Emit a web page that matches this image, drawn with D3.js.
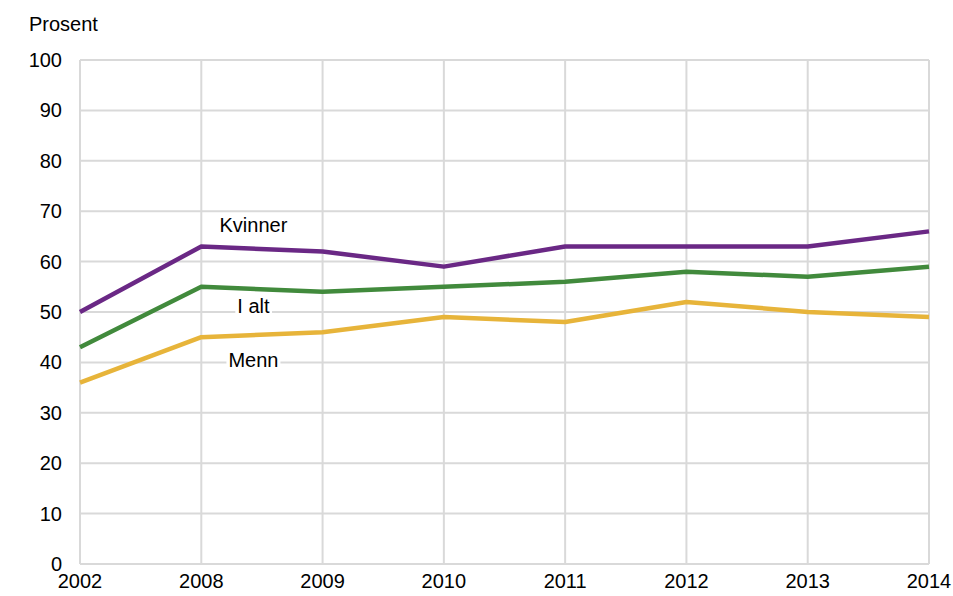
<!DOCTYPE html>
<html>
<head>
<meta charset="utf-8">
<script src="https://cdn.jsdelivr.net/npm/d3@7"></script>
<style>
body{margin:0;background:#fff;}
text{font-family:"Liberation Sans",Arial,sans-serif;fill:#000;}
</style>
</head>
<body>
<div id="chart"></div>
<script>
var years = ["2002","2008","2009","2010","2011","2012","2013","2014"];
var kvinner = [50,63,62,59,63,63,63,66];
var ialt = [43,55,54,55,56,58,57,59];
var menn = [36,45,46,49,48,52,50,49];
var yTicks = [0,10,20,30,40,50,60,70,80,90,100];

var series = [
  {name:"Kvinner", values:kvinner, color:"#6a2885", label:[1.43,67.3]},
  {name:"I alt", values:ialt, color:"#418a3c", label:[1.43,51.2]},
  {name:"Menn", values:menn, color:"#e7b43a", label:[1.43,40.5]}
];

var width = 953, height = 596;
var mLeft = 80, mRight = 929, mTop = 60, mBottom = 564;
var fs = "20px";

var svg = d3.select("#chart").append("svg")
  .attr("width", width).attr("height", height);

var x = d3.scalePoint().domain(years).range([mLeft, mRight]);
var y = d3.scaleLinear().domain([0,100]).range([mBottom, mTop]);

// grid
svg.append("g").selectAll("line")
  .data(yTicks).enter().append("line")
  .attr("x1", mLeft).attr("x2", mRight)
  .attr("y1", d => y(d)).attr("y2", d => y(d))
  .attr("stroke", "#d9d9d9").attr("stroke-width", 2);
svg.append("g").selectAll("line")
  .data(years).enter().append("line")
  .attr("x1", d => x(d)).attr("x2", d => x(d))
  .attr("y1", mTop).attr("y2", mBottom)
  .attr("stroke", "#d9d9d9").attr("stroke-width", 2);

// y labels
svg.append("g").selectAll("text")
  .data(yTicks).enter().append("text")
  .attr("x", 62).attr("y", d => y(d) + 7)
  .attr("text-anchor", "end")
  .style("font-size", fs)
  .text(d => d);

// x labels
svg.append("g").selectAll("text")
  .data(years).enter().append("text")
  .attr("x", d => x(d)).attr("y", 588)
  .attr("text-anchor", "middle")
  .style("font-size", fs)
  .text(d => d);

svg.append("text").attr("x", 29).attr("y", 31)
  .style("font-size", fs).text("Prosent");

var line = d3.line()
  .x((d, i) => x(years[i]))
  .y(d => y(d));

svg.append("g").selectAll("path")
  .data(series).enter().append("path")
  .attr("d", d => line(d.values))
  .attr("fill", "none")
  .attr("stroke", d => d.color)
  .attr("stroke-width", 4.5)
  .attr("stroke-linejoin", "round");

// series labels with white box
var xi = d3.scaleLinear().domain([0, years.length-1]).range([mLeft, mRight]);
var lab = svg.append("g").selectAll("g")
  .data(series).enter().append("g")
  .attr("transform", d => `translate(${xi(d.label[0])},${y(d.label[1])})`);
lab.each(function(d){
  var g = d3.select(this);
  var t = g.append("text").attr("text-anchor","middle").attr("y", 7)
    .style("font-size",fs).text(d.name);
  var b = t.node().getBBox();
  g.insert("rect","text").attr("x", b.x-2).attr("y", b.y+2).attr("width", b.width+4).attr("height", b.height-4)
    .attr("fill","#fff");
});
</script>
</body>
</html>
